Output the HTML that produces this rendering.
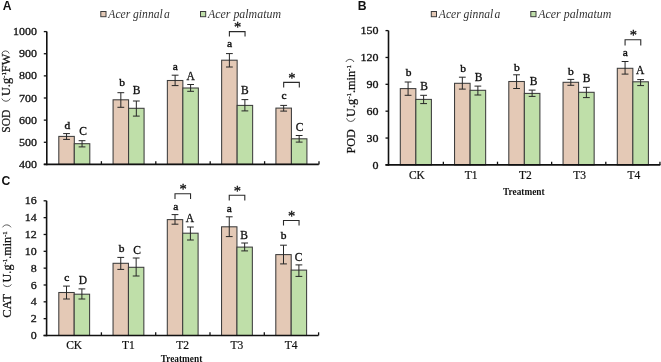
<!DOCTYPE html>
<html><head><meta charset="utf-8"><style>
html,body{margin:0;padding:0;background:#fff;}
body{width:661px;height:362px;overflow:hidden;}
svg{display:block;will-change:transform;}
</style></head><body>
<svg width="661" height="362" viewBox="0 0 661 362" style="font-family:'Liberation Serif',serif">
<rect width="661" height="362" fill="#fff"/>
<rect x="58.80" y="136.40" width="15.50" height="28.00" fill="#E4C9B6" stroke="#3c3c3c" stroke-width="1.05"/>
<rect x="74.30" y="143.70" width="15.50" height="20.70" fill="#BFDFA9" stroke="#3c3c3c" stroke-width="1.05"/>
<line x1="66.55" y1="133.60" x2="66.55" y2="139.40" stroke="#262626" stroke-width="1.0"/>
<line x1="63.15" y1="133.60" x2="69.95" y2="133.60" stroke="#262626" stroke-width="1.0"/>
<line x1="63.15" y1="139.40" x2="69.95" y2="139.40" stroke="#262626" stroke-width="1.0"/>
<text x="67.40" y="128.60" font-family="'Liberation Serif', serif" font-size="11.4" font-weight="normal" font-style="normal" text-anchor="middle" fill="#111" stroke="#111" stroke-width="0.42">d</text>
<line x1="82.05" y1="140.70" x2="82.05" y2="146.90" stroke="#262626" stroke-width="1.0"/>
<line x1="78.65" y1="140.70" x2="85.45" y2="140.70" stroke="#262626" stroke-width="1.0"/>
<line x1="78.65" y1="146.90" x2="85.45" y2="146.90" stroke="#262626" stroke-width="1.0"/>
<text x="83.20" y="134.50" font-family="'Liberation Serif', serif" font-size="11.5" font-weight="normal" font-style="normal" text-anchor="middle" fill="#111" stroke="#111" stroke-width="0.3">C</text>
<rect x="113.08" y="99.80" width="15.50" height="64.60" fill="#E4C9B6" stroke="#3c3c3c" stroke-width="1.05"/>
<rect x="128.58" y="108.30" width="15.50" height="56.10" fill="#BFDFA9" stroke="#3c3c3c" stroke-width="1.05"/>
<line x1="120.83" y1="92.70" x2="120.83" y2="107.30" stroke="#262626" stroke-width="1.0"/>
<line x1="117.43" y1="92.70" x2="124.23" y2="92.70" stroke="#262626" stroke-width="1.0"/>
<line x1="117.43" y1="107.30" x2="124.23" y2="107.30" stroke="#262626" stroke-width="1.0"/>
<text x="122.00" y="85.70" font-family="'Liberation Serif', serif" font-size="11.4" font-weight="normal" font-style="normal" text-anchor="middle" fill="#111" stroke="#111" stroke-width="0.42">b</text>
<line x1="136.33" y1="101.00" x2="136.33" y2="116.10" stroke="#262626" stroke-width="1.0"/>
<line x1="132.93" y1="101.00" x2="139.73" y2="101.00" stroke="#262626" stroke-width="1.0"/>
<line x1="132.93" y1="116.10" x2="139.73" y2="116.10" stroke="#262626" stroke-width="1.0"/>
<text x="136.50" y="94.10" font-family="'Liberation Serif', serif" font-size="11.5" font-weight="normal" font-style="normal" text-anchor="middle" fill="#111" stroke="#111" stroke-width="0.3">B</text>
<rect x="167.36" y="80.50" width="15.50" height="83.90" fill="#E4C9B6" stroke="#3c3c3c" stroke-width="1.05"/>
<rect x="182.86" y="88.00" width="15.50" height="76.40" fill="#BFDFA9" stroke="#3c3c3c" stroke-width="1.05"/>
<line x1="175.11" y1="75.20" x2="175.11" y2="85.60" stroke="#262626" stroke-width="1.0"/>
<line x1="171.71" y1="75.20" x2="178.51" y2="75.20" stroke="#262626" stroke-width="1.0"/>
<line x1="171.71" y1="85.60" x2="178.51" y2="85.60" stroke="#262626" stroke-width="1.0"/>
<text x="175.40" y="69.90" font-family="'Liberation Serif', serif" font-size="11.4" font-weight="normal" font-style="normal" text-anchor="middle" fill="#111" stroke="#111" stroke-width="0.42">a</text>
<line x1="190.61" y1="84.50" x2="190.61" y2="91.30" stroke="#262626" stroke-width="1.0"/>
<line x1="187.21" y1="84.50" x2="194.01" y2="84.50" stroke="#262626" stroke-width="1.0"/>
<line x1="187.21" y1="91.30" x2="194.01" y2="91.30" stroke="#262626" stroke-width="1.0"/>
<text x="190.70" y="79.50" font-family="'Liberation Serif', serif" font-size="11.5" font-weight="normal" font-style="normal" text-anchor="middle" fill="#111" stroke="#111" stroke-width="0.3">A</text>
<rect x="221.64" y="60.20" width="15.50" height="104.20" fill="#E4C9B6" stroke="#3c3c3c" stroke-width="1.05"/>
<rect x="237.14" y="105.40" width="15.50" height="59.00" fill="#BFDFA9" stroke="#3c3c3c" stroke-width="1.05"/>
<line x1="229.39" y1="53.60" x2="229.39" y2="67.00" stroke="#262626" stroke-width="1.0"/>
<line x1="225.99" y1="53.60" x2="232.79" y2="53.60" stroke="#262626" stroke-width="1.0"/>
<line x1="225.99" y1="67.00" x2="232.79" y2="67.00" stroke="#262626" stroke-width="1.0"/>
<text x="229.60" y="47.40" font-family="'Liberation Serif', serif" font-size="11.4" font-weight="normal" font-style="normal" text-anchor="middle" fill="#111" stroke="#111" stroke-width="0.42">a</text>
<line x1="244.89" y1="99.60" x2="244.89" y2="110.90" stroke="#262626" stroke-width="1.0"/>
<line x1="241.49" y1="99.60" x2="248.29" y2="99.60" stroke="#262626" stroke-width="1.0"/>
<line x1="241.49" y1="110.90" x2="248.29" y2="110.90" stroke="#262626" stroke-width="1.0"/>
<text x="244.80" y="93.60" font-family="'Liberation Serif', serif" font-size="11.5" font-weight="normal" font-style="normal" text-anchor="middle" fill="#111" stroke="#111" stroke-width="0.3">B</text>
<path d="M229.39,36.40 V31.60 H245.04 V36.40" fill="none" stroke="#2a2a2a" stroke-width="1.1"/>
<text x="237.61" y="31.90" font-family="'Liberation Serif', serif" font-size="14.5" font-weight="normal" font-style="normal" text-anchor="middle" fill="#111" stroke="#111" stroke-width="0.3">*</text>
<rect x="275.92" y="108.10" width="15.50" height="56.30" fill="#E4C9B6" stroke="#3c3c3c" stroke-width="1.05"/>
<rect x="291.42" y="138.80" width="15.50" height="25.60" fill="#BFDFA9" stroke="#3c3c3c" stroke-width="1.05"/>
<line x1="283.67" y1="105.40" x2="283.67" y2="111.10" stroke="#262626" stroke-width="1.0"/>
<line x1="280.27" y1="105.40" x2="287.07" y2="105.40" stroke="#262626" stroke-width="1.0"/>
<line x1="280.27" y1="111.10" x2="287.07" y2="111.10" stroke="#262626" stroke-width="1.0"/>
<text x="284.10" y="99.40" font-family="'Liberation Serif', serif" font-size="11.4" font-weight="normal" font-style="normal" text-anchor="middle" fill="#111" stroke="#111" stroke-width="0.42">c</text>
<line x1="299.17" y1="135.50" x2="299.17" y2="142.10" stroke="#262626" stroke-width="1.0"/>
<line x1="295.77" y1="135.50" x2="302.57" y2="135.50" stroke="#262626" stroke-width="1.0"/>
<line x1="295.77" y1="142.10" x2="302.57" y2="142.10" stroke="#262626" stroke-width="1.0"/>
<text x="299.70" y="131.10" font-family="'Liberation Serif', serif" font-size="11.5" font-weight="normal" font-style="normal" text-anchor="middle" fill="#111" stroke="#111" stroke-width="0.3">C</text>
<path d="M283.67,87.40 V82.40 H299.32 V87.40" fill="none" stroke="#2a2a2a" stroke-width="1.1"/>
<text x="291.89" y="82.70" font-family="'Liberation Serif', serif" font-size="14.5" font-weight="normal" font-style="normal" text-anchor="middle" fill="#111" stroke="#111" stroke-width="0.3">*</text>
<line x1="46.80" y1="31.60" x2="46.80" y2="165.15" stroke="#111" stroke-width="1.6"/>
<line x1="43.80" y1="164.40" x2="318.80" y2="164.40" stroke="#111" stroke-width="1.6"/>
<line x1="101.40" y1="161.20" x2="101.40" y2="164.40" stroke="#111" stroke-width="1.3"/>
<line x1="155.80" y1="161.20" x2="155.80" y2="164.40" stroke="#111" stroke-width="1.3"/>
<line x1="210.20" y1="161.20" x2="210.20" y2="164.40" stroke="#111" stroke-width="1.3"/>
<line x1="264.60" y1="161.20" x2="264.60" y2="164.40" stroke="#111" stroke-width="1.3"/>
<line x1="319.00" y1="161.20" x2="319.00" y2="164.40" stroke="#111" stroke-width="1.3"/>
<line x1="43.80" y1="31.60" x2="46.80" y2="31.60" stroke="#111" stroke-width="1.3"/>
<text x="37.00" y="35.20" font-family="'Liberation Serif', serif" font-size="11.2" font-weight="normal" font-style="normal" text-anchor="end" fill="#111" textLength="24.0" lengthAdjust="spacingAndGlyphs" stroke="#111" stroke-width="0.3">1000</text>
<line x1="43.80" y1="53.73" x2="46.80" y2="53.73" stroke="#111" stroke-width="1.3"/>
<text x="37.00" y="57.33" font-family="'Liberation Serif', serif" font-size="11.2" font-weight="normal" font-style="normal" text-anchor="end" fill="#111" textLength="18.0" lengthAdjust="spacingAndGlyphs" stroke="#111" stroke-width="0.3">900</text>
<line x1="43.80" y1="75.87" x2="46.80" y2="75.87" stroke="#111" stroke-width="1.3"/>
<text x="37.00" y="79.47" font-family="'Liberation Serif', serif" font-size="11.2" font-weight="normal" font-style="normal" text-anchor="end" fill="#111" textLength="18.0" lengthAdjust="spacingAndGlyphs" stroke="#111" stroke-width="0.3">800</text>
<line x1="43.80" y1="98.00" x2="46.80" y2="98.00" stroke="#111" stroke-width="1.3"/>
<text x="37.00" y="101.60" font-family="'Liberation Serif', serif" font-size="11.2" font-weight="normal" font-style="normal" text-anchor="end" fill="#111" textLength="18.0" lengthAdjust="spacingAndGlyphs" stroke="#111" stroke-width="0.3">700</text>
<line x1="43.80" y1="120.13" x2="46.80" y2="120.13" stroke="#111" stroke-width="1.3"/>
<text x="37.00" y="123.73" font-family="'Liberation Serif', serif" font-size="11.2" font-weight="normal" font-style="normal" text-anchor="end" fill="#111" textLength="18.0" lengthAdjust="spacingAndGlyphs" stroke="#111" stroke-width="0.3">600</text>
<line x1="43.80" y1="142.27" x2="46.80" y2="142.27" stroke="#111" stroke-width="1.3"/>
<text x="37.00" y="145.87" font-family="'Liberation Serif', serif" font-size="11.2" font-weight="normal" font-style="normal" text-anchor="end" fill="#111" textLength="18.0" lengthAdjust="spacingAndGlyphs" stroke="#111" stroke-width="0.3">500</text>
<line x1="43.80" y1="164.40" x2="46.80" y2="164.40" stroke="#111" stroke-width="1.3"/>
<text x="37.00" y="168.00" font-family="'Liberation Serif', serif" font-size="11.2" font-weight="normal" font-style="normal" text-anchor="end" fill="#111" textLength="18.0" lengthAdjust="spacingAndGlyphs" stroke="#111" stroke-width="0.3">400</text>
<text transform="translate(9.8,132.7) rotate(-90)" font-family="'Liberation Serif', serif" font-size="12.3" fill="#111" stroke="#111" stroke-width="0.25" textLength="22.9" lengthAdjust="spacingAndGlyphs">SOD</text>
<text transform="translate(9.5,96.0) rotate(-90)" font-family="'Liberation Serif', serif" font-size="12" fill="#111" stroke="#111" stroke-width="0.25" textLength="42.3" lengthAdjust="spacingAndGlyphs">U.g<tspan dy="-3.8" font-size="6.8">-1</tspan><tspan dy="3.8">FW</tspan></text>
<path d="M1.8,98.6 A4.62,4.62 0 0 0 10.2,98.6" fill="none" stroke="#444" stroke-width="0.9"/>
<path d="M1.8,53.5 A3.93,3.93 0 0 1 9.2,53.5" fill="none" stroke="#444" stroke-width="0.9"/>
<rect x="400.30" y="88.60" width="15.55" height="76.30" fill="#E4C9B6" stroke="#3c3c3c" stroke-width="1.05"/>
<rect x="415.85" y="99.40" width="15.55" height="65.50" fill="#BFDFA9" stroke="#3c3c3c" stroke-width="1.05"/>
<line x1="408.08" y1="82.00" x2="408.08" y2="95.30" stroke="#262626" stroke-width="1.0"/>
<line x1="404.68" y1="82.00" x2="411.48" y2="82.00" stroke="#262626" stroke-width="1.0"/>
<line x1="404.68" y1="95.30" x2="411.48" y2="95.30" stroke="#262626" stroke-width="1.0"/>
<text x="408.60" y="76.10" font-family="'Liberation Serif', serif" font-size="11.4" font-weight="normal" font-style="normal" text-anchor="middle" fill="#111" stroke="#111" stroke-width="0.42">b</text>
<line x1="423.62" y1="95.30" x2="423.62" y2="103.60" stroke="#262626" stroke-width="1.0"/>
<line x1="420.23" y1="95.30" x2="427.02" y2="95.30" stroke="#262626" stroke-width="1.0"/>
<line x1="420.23" y1="103.60" x2="427.02" y2="103.60" stroke="#262626" stroke-width="1.0"/>
<text x="424.00" y="90.10" font-family="'Liberation Serif', serif" font-size="11.5" font-weight="normal" font-style="normal" text-anchor="middle" fill="#111" stroke="#111" stroke-width="0.3">B</text>
<rect x="454.55" y="83.30" width="15.55" height="81.60" fill="#E4C9B6" stroke="#3c3c3c" stroke-width="1.05"/>
<rect x="470.10" y="90.30" width="15.55" height="74.60" fill="#BFDFA9" stroke="#3c3c3c" stroke-width="1.05"/>
<line x1="462.33" y1="77.20" x2="462.33" y2="89.10" stroke="#262626" stroke-width="1.0"/>
<line x1="458.93" y1="77.20" x2="465.73" y2="77.20" stroke="#262626" stroke-width="1.0"/>
<line x1="458.93" y1="89.10" x2="465.73" y2="89.10" stroke="#262626" stroke-width="1.0"/>
<text x="463.20" y="72.00" font-family="'Liberation Serif', serif" font-size="11.4" font-weight="normal" font-style="normal" text-anchor="middle" fill="#111" stroke="#111" stroke-width="0.42">b</text>
<line x1="477.88" y1="86.10" x2="477.88" y2="95.00" stroke="#262626" stroke-width="1.0"/>
<line x1="474.48" y1="86.10" x2="481.27" y2="86.10" stroke="#262626" stroke-width="1.0"/>
<line x1="474.48" y1="95.00" x2="481.27" y2="95.00" stroke="#262626" stroke-width="1.0"/>
<text x="478.70" y="80.70" font-family="'Liberation Serif', serif" font-size="11.5" font-weight="normal" font-style="normal" text-anchor="middle" fill="#111" stroke="#111" stroke-width="0.3">B</text>
<rect x="508.80" y="81.50" width="15.55" height="83.40" fill="#E4C9B6" stroke="#3c3c3c" stroke-width="1.05"/>
<rect x="524.35" y="93.40" width="15.55" height="71.50" fill="#BFDFA9" stroke="#3c3c3c" stroke-width="1.05"/>
<line x1="516.58" y1="74.80" x2="516.58" y2="88.50" stroke="#262626" stroke-width="1.0"/>
<line x1="513.18" y1="74.80" x2="519.98" y2="74.80" stroke="#262626" stroke-width="1.0"/>
<line x1="513.18" y1="88.50" x2="519.98" y2="88.50" stroke="#262626" stroke-width="1.0"/>
<text x="516.80" y="70.70" font-family="'Liberation Serif', serif" font-size="11.4" font-weight="normal" font-style="normal" text-anchor="middle" fill="#111" stroke="#111" stroke-width="0.42">b</text>
<line x1="532.12" y1="90.10" x2="532.12" y2="96.40" stroke="#262626" stroke-width="1.0"/>
<line x1="528.73" y1="90.10" x2="535.52" y2="90.10" stroke="#262626" stroke-width="1.0"/>
<line x1="528.73" y1="96.40" x2="535.52" y2="96.40" stroke="#262626" stroke-width="1.0"/>
<text x="533.70" y="85.10" font-family="'Liberation Serif', serif" font-size="11.5" font-weight="normal" font-style="normal" text-anchor="middle" fill="#111" stroke="#111" stroke-width="0.3">B</text>
<rect x="563.05" y="82.30" width="15.55" height="82.60" fill="#E4C9B6" stroke="#3c3c3c" stroke-width="1.05"/>
<rect x="578.60" y="92.30" width="15.55" height="72.60" fill="#BFDFA9" stroke="#3c3c3c" stroke-width="1.05"/>
<line x1="570.82" y1="79.40" x2="570.82" y2="85.30" stroke="#262626" stroke-width="1.0"/>
<line x1="567.42" y1="79.40" x2="574.22" y2="79.40" stroke="#262626" stroke-width="1.0"/>
<line x1="567.42" y1="85.30" x2="574.22" y2="85.30" stroke="#262626" stroke-width="1.0"/>
<text x="570.90" y="74.90" font-family="'Liberation Serif', serif" font-size="11.4" font-weight="normal" font-style="normal" text-anchor="middle" fill="#111" stroke="#111" stroke-width="0.42">b</text>
<line x1="586.38" y1="87.30" x2="586.38" y2="97.60" stroke="#262626" stroke-width="1.0"/>
<line x1="582.98" y1="87.30" x2="589.77" y2="87.30" stroke="#262626" stroke-width="1.0"/>
<line x1="582.98" y1="97.60" x2="589.77" y2="97.60" stroke="#262626" stroke-width="1.0"/>
<text x="586.50" y="82.00" font-family="'Liberation Serif', serif" font-size="11.5" font-weight="normal" font-style="normal" text-anchor="middle" fill="#111" stroke="#111" stroke-width="0.3">B</text>
<rect x="617.30" y="68.30" width="15.55" height="96.60" fill="#E4C9B6" stroke="#3c3c3c" stroke-width="1.05"/>
<rect x="632.85" y="81.80" width="15.55" height="83.10" fill="#BFDFA9" stroke="#3c3c3c" stroke-width="1.05"/>
<line x1="625.07" y1="61.50" x2="625.07" y2="74.10" stroke="#262626" stroke-width="1.0"/>
<line x1="621.67" y1="61.50" x2="628.47" y2="61.50" stroke="#262626" stroke-width="1.0"/>
<line x1="621.67" y1="74.10" x2="628.47" y2="74.10" stroke="#262626" stroke-width="1.0"/>
<text x="625.20" y="56.40" font-family="'Liberation Serif', serif" font-size="11.4" font-weight="normal" font-style="normal" text-anchor="middle" fill="#111" stroke="#111" stroke-width="0.42">a</text>
<line x1="640.62" y1="79.60" x2="640.62" y2="85.60" stroke="#262626" stroke-width="1.0"/>
<line x1="637.23" y1="79.60" x2="644.02" y2="79.60" stroke="#262626" stroke-width="1.0"/>
<line x1="637.23" y1="85.60" x2="644.02" y2="85.60" stroke="#262626" stroke-width="1.0"/>
<text x="640.10" y="74.00" font-family="'Liberation Serif', serif" font-size="11.5" font-weight="normal" font-style="normal" text-anchor="middle" fill="#111" stroke="#111" stroke-width="0.3">A</text>
<path d="M625.07,45.60 V39.80 H640.77 V45.60" fill="none" stroke="#2a2a2a" stroke-width="1.1"/>
<text x="633.32" y="40.10" font-family="'Liberation Serif', serif" font-size="14.5" font-weight="normal" font-style="normal" text-anchor="middle" fill="#111" stroke="#111" stroke-width="0.3">*</text>
<line x1="388.50" y1="30.60" x2="388.50" y2="165.65" stroke="#111" stroke-width="1.6"/>
<line x1="385.50" y1="164.90" x2="660.35" y2="164.90" stroke="#111" stroke-width="1.6"/>
<line x1="443.35" y1="161.70" x2="443.35" y2="164.90" stroke="#111" stroke-width="1.3"/>
<line x1="497.50" y1="161.70" x2="497.50" y2="164.90" stroke="#111" stroke-width="1.3"/>
<line x1="551.65" y1="161.70" x2="551.65" y2="164.90" stroke="#111" stroke-width="1.3"/>
<line x1="605.80" y1="161.70" x2="605.80" y2="164.90" stroke="#111" stroke-width="1.3"/>
<line x1="659.95" y1="161.70" x2="659.95" y2="164.90" stroke="#111" stroke-width="1.3"/>
<line x1="385.50" y1="30.60" x2="388.50" y2="30.60" stroke="#111" stroke-width="1.3"/>
<text x="378.60" y="34.20" font-family="'Liberation Serif', serif" font-size="11.2" font-weight="normal" font-style="normal" text-anchor="end" fill="#111" textLength="18.0" lengthAdjust="spacingAndGlyphs" stroke="#111" stroke-width="0.3">150</text>
<line x1="385.50" y1="57.46" x2="388.50" y2="57.46" stroke="#111" stroke-width="1.3"/>
<text x="378.60" y="61.06" font-family="'Liberation Serif', serif" font-size="11.2" font-weight="normal" font-style="normal" text-anchor="end" fill="#111" textLength="18.0" lengthAdjust="spacingAndGlyphs" stroke="#111" stroke-width="0.3">120</text>
<line x1="385.50" y1="84.32" x2="388.50" y2="84.32" stroke="#111" stroke-width="1.3"/>
<text x="378.60" y="87.92" font-family="'Liberation Serif', serif" font-size="11.2" font-weight="normal" font-style="normal" text-anchor="end" fill="#111" textLength="12.0" lengthAdjust="spacingAndGlyphs" stroke="#111" stroke-width="0.3">90</text>
<line x1="385.50" y1="111.18" x2="388.50" y2="111.18" stroke="#111" stroke-width="1.3"/>
<text x="378.60" y="114.78" font-family="'Liberation Serif', serif" font-size="11.2" font-weight="normal" font-style="normal" text-anchor="end" fill="#111" textLength="12.0" lengthAdjust="spacingAndGlyphs" stroke="#111" stroke-width="0.3">60</text>
<line x1="385.50" y1="138.04" x2="388.50" y2="138.04" stroke="#111" stroke-width="1.3"/>
<text x="378.60" y="141.64" font-family="'Liberation Serif', serif" font-size="11.2" font-weight="normal" font-style="normal" text-anchor="end" fill="#111" textLength="12.0" lengthAdjust="spacingAndGlyphs" stroke="#111" stroke-width="0.3">30</text>
<line x1="385.50" y1="164.90" x2="388.50" y2="164.90" stroke="#111" stroke-width="1.3"/>
<text x="378.60" y="168.50" font-family="'Liberation Serif', serif" font-size="11.2" font-weight="normal" font-style="normal" text-anchor="end" fill="#111" textLength="6.0" lengthAdjust="spacingAndGlyphs" stroke="#111" stroke-width="0.3">0</text>
<text x="416.92" y="179.30" font-family="'Liberation Serif', serif" font-size="11.5" font-weight="normal" font-style="normal" text-anchor="middle" fill="#111" stroke="#111" stroke-width="0.2">CK</text>
<text x="471.17" y="179.30" font-family="'Liberation Serif', serif" font-size="11.5" font-weight="normal" font-style="normal" text-anchor="middle" fill="#111" stroke="#111" stroke-width="0.2">T1</text>
<text x="525.42" y="179.30" font-family="'Liberation Serif', serif" font-size="11.5" font-weight="normal" font-style="normal" text-anchor="middle" fill="#111" stroke="#111" stroke-width="0.2">T2</text>
<text x="579.67" y="179.30" font-family="'Liberation Serif', serif" font-size="11.5" font-weight="normal" font-style="normal" text-anchor="middle" fill="#111" stroke="#111" stroke-width="0.2">T3</text>
<text x="633.92" y="179.30" font-family="'Liberation Serif', serif" font-size="11.5" font-weight="normal" font-style="normal" text-anchor="middle" fill="#111" stroke="#111" stroke-width="0.2">T4</text>
<text x="523.80" y="194.90" font-family="'Liberation Serif', serif" font-size="9.3" font-weight="bold" font-style="normal" text-anchor="middle" fill="#111" >Treatment</text>
<text transform="translate(354.8,153.5) rotate(-90)" font-family="'Liberation Serif', serif" font-size="12" fill="#111" stroke="#111" stroke-width="0.25" textLength="24.3" lengthAdjust="spacingAndGlyphs">POD</text>
<text transform="translate(354.8,116.9) rotate(-90)" font-family="'Liberation Serif', serif" font-size="12" fill="#111" stroke="#111" stroke-width="0.25" textLength="51.8" lengthAdjust="spacingAndGlyphs">U.g<tspan dy="-3.8" font-size="6.8">-1</tspan><tspan dy="3.8">.min</tspan><tspan dy="-3.8" font-size="6.8">-1</tspan></text>
<path d="M346.5,118.3 A4.42,4.42 0 0 0 355.0,118.3" fill="none" stroke="#444" stroke-width="0.9"/>
<path d="M345.8,62.0 A4.46,4.46 0 0 1 354.0,62.0" fill="none" stroke="#444" stroke-width="0.9"/>
<rect x="58.80" y="292.50" width="15.40" height="43.00" fill="#E4C9B6" stroke="#3c3c3c" stroke-width="1.05"/>
<rect x="74.20" y="294.20" width="15.40" height="41.30" fill="#BFDFA9" stroke="#3c3c3c" stroke-width="1.05"/>
<line x1="66.50" y1="286.10" x2="66.50" y2="299.00" stroke="#262626" stroke-width="1.0"/>
<line x1="63.10" y1="286.10" x2="69.90" y2="286.10" stroke="#262626" stroke-width="1.0"/>
<line x1="63.10" y1="299.00" x2="69.90" y2="299.00" stroke="#262626" stroke-width="1.0"/>
<text x="66.90" y="281.10" font-family="'Liberation Serif', serif" font-size="11.4" font-weight="normal" font-style="normal" text-anchor="middle" fill="#111" stroke="#111" stroke-width="0.42">c</text>
<line x1="81.90" y1="288.90" x2="81.90" y2="299.00" stroke="#262626" stroke-width="1.0"/>
<line x1="78.50" y1="288.90" x2="85.30" y2="288.90" stroke="#262626" stroke-width="1.0"/>
<line x1="78.50" y1="299.00" x2="85.30" y2="299.00" stroke="#262626" stroke-width="1.0"/>
<text x="83.00" y="283.60" font-family="'Liberation Serif', serif" font-size="11.5" font-weight="normal" font-style="normal" text-anchor="middle" fill="#111" stroke="#111" stroke-width="0.3">D</text>
<rect x="113.05" y="263.30" width="15.40" height="72.20" fill="#E4C9B6" stroke="#3c3c3c" stroke-width="1.05"/>
<rect x="128.45" y="267.30" width="15.40" height="68.20" fill="#BFDFA9" stroke="#3c3c3c" stroke-width="1.05"/>
<line x1="120.75" y1="257.40" x2="120.75" y2="269.40" stroke="#262626" stroke-width="1.0"/>
<line x1="117.35" y1="257.40" x2="124.15" y2="257.40" stroke="#262626" stroke-width="1.0"/>
<line x1="117.35" y1="269.40" x2="124.15" y2="269.40" stroke="#262626" stroke-width="1.0"/>
<text x="121.50" y="251.60" font-family="'Liberation Serif', serif" font-size="11.4" font-weight="normal" font-style="normal" text-anchor="middle" fill="#111" stroke="#111" stroke-width="0.42">b</text>
<line x1="136.15" y1="258.00" x2="136.15" y2="276.00" stroke="#262626" stroke-width="1.0"/>
<line x1="132.75" y1="258.00" x2="139.55" y2="258.00" stroke="#262626" stroke-width="1.0"/>
<line x1="132.75" y1="276.00" x2="139.55" y2="276.00" stroke="#262626" stroke-width="1.0"/>
<text x="137.20" y="253.90" font-family="'Liberation Serif', serif" font-size="11.5" font-weight="normal" font-style="normal" text-anchor="middle" fill="#111" stroke="#111" stroke-width="0.3">C</text>
<rect x="167.30" y="219.60" width="15.40" height="115.90" fill="#E4C9B6" stroke="#3c3c3c" stroke-width="1.05"/>
<rect x="182.70" y="233.20" width="15.40" height="102.30" fill="#BFDFA9" stroke="#3c3c3c" stroke-width="1.05"/>
<line x1="175.00" y1="214.60" x2="175.00" y2="224.20" stroke="#262626" stroke-width="1.0"/>
<line x1="171.60" y1="214.60" x2="178.40" y2="214.60" stroke="#262626" stroke-width="1.0"/>
<line x1="171.60" y1="224.20" x2="178.40" y2="224.20" stroke="#262626" stroke-width="1.0"/>
<text x="175.70" y="210.10" font-family="'Liberation Serif', serif" font-size="11.4" font-weight="normal" font-style="normal" text-anchor="middle" fill="#111" stroke="#111" stroke-width="0.42">a</text>
<line x1="190.40" y1="227.00" x2="190.40" y2="240.00" stroke="#262626" stroke-width="1.0"/>
<line x1="187.00" y1="227.00" x2="193.80" y2="227.00" stroke="#262626" stroke-width="1.0"/>
<line x1="187.00" y1="240.00" x2="193.80" y2="240.00" stroke="#262626" stroke-width="1.0"/>
<text x="190.00" y="221.90" font-family="'Liberation Serif', serif" font-size="11.5" font-weight="normal" font-style="normal" text-anchor="middle" fill="#111" stroke="#111" stroke-width="0.3">A</text>
<path d="M175.00,198.90 V193.70 H190.55 V198.90" fill="none" stroke="#2a2a2a" stroke-width="1.1"/>
<text x="183.17" y="194.00" font-family="'Liberation Serif', serif" font-size="14.5" font-weight="normal" font-style="normal" text-anchor="middle" fill="#111" stroke="#111" stroke-width="0.3">*</text>
<rect x="221.55" y="226.80" width="15.40" height="108.70" fill="#E4C9B6" stroke="#3c3c3c" stroke-width="1.05"/>
<rect x="236.95" y="247.10" width="15.40" height="88.40" fill="#BFDFA9" stroke="#3c3c3c" stroke-width="1.05"/>
<line x1="229.25" y1="216.80" x2="229.25" y2="236.60" stroke="#262626" stroke-width="1.0"/>
<line x1="225.85" y1="216.80" x2="232.65" y2="216.80" stroke="#262626" stroke-width="1.0"/>
<line x1="225.85" y1="236.60" x2="232.65" y2="236.60" stroke="#262626" stroke-width="1.0"/>
<text x="229.20" y="211.90" font-family="'Liberation Serif', serif" font-size="11.4" font-weight="normal" font-style="normal" text-anchor="middle" fill="#111" stroke="#111" stroke-width="0.42">a</text>
<line x1="244.65" y1="243.00" x2="244.65" y2="250.90" stroke="#262626" stroke-width="1.0"/>
<line x1="241.25" y1="243.00" x2="248.05" y2="243.00" stroke="#262626" stroke-width="1.0"/>
<line x1="241.25" y1="250.90" x2="248.05" y2="250.90" stroke="#262626" stroke-width="1.0"/>
<text x="244.20" y="238.90" font-family="'Liberation Serif', serif" font-size="11.5" font-weight="normal" font-style="normal" text-anchor="middle" fill="#111" stroke="#111" stroke-width="0.3">B</text>
<path d="M229.25,200.50 V195.30 H244.80 V200.50" fill="none" stroke="#2a2a2a" stroke-width="1.1"/>
<text x="237.42" y="195.60" font-family="'Liberation Serif', serif" font-size="14.5" font-weight="normal" font-style="normal" text-anchor="middle" fill="#111" stroke="#111" stroke-width="0.3">*</text>
<rect x="275.80" y="254.60" width="15.40" height="80.90" fill="#E4C9B6" stroke="#3c3c3c" stroke-width="1.05"/>
<rect x="291.20" y="270.10" width="15.40" height="65.40" fill="#BFDFA9" stroke="#3c3c3c" stroke-width="1.05"/>
<line x1="283.50" y1="245.20" x2="283.50" y2="263.90" stroke="#262626" stroke-width="1.0"/>
<line x1="280.10" y1="245.20" x2="286.90" y2="245.20" stroke="#262626" stroke-width="1.0"/>
<line x1="280.10" y1="263.90" x2="286.90" y2="263.90" stroke="#262626" stroke-width="1.0"/>
<text x="283.50" y="239.40" font-family="'Liberation Serif', serif" font-size="11.4" font-weight="normal" font-style="normal" text-anchor="middle" fill="#111" stroke="#111" stroke-width="0.42">b</text>
<line x1="298.90" y1="264.90" x2="298.90" y2="276.40" stroke="#262626" stroke-width="1.0"/>
<line x1="295.50" y1="264.90" x2="302.30" y2="264.90" stroke="#262626" stroke-width="1.0"/>
<line x1="295.50" y1="276.40" x2="302.30" y2="276.40" stroke="#262626" stroke-width="1.0"/>
<text x="298.60" y="260.70" font-family="'Liberation Serif', serif" font-size="11.5" font-weight="normal" font-style="normal" text-anchor="middle" fill="#111" stroke="#111" stroke-width="0.3">C</text>
<path d="M283.50,225.50 V220.50 H299.05 V225.50" fill="none" stroke="#2a2a2a" stroke-width="1.1"/>
<text x="291.67" y="220.80" font-family="'Liberation Serif', serif" font-size="14.5" font-weight="normal" font-style="normal" text-anchor="middle" fill="#111" stroke="#111" stroke-width="0.3">*</text>
<line x1="46.60" y1="200.80" x2="46.60" y2="336.25" stroke="#111" stroke-width="1.6"/>
<line x1="43.60" y1="335.50" x2="318.45" y2="335.50" stroke="#111" stroke-width="1.6"/>
<line x1="101.40" y1="332.30" x2="101.40" y2="335.50" stroke="#111" stroke-width="1.3"/>
<line x1="155.70" y1="332.30" x2="155.70" y2="335.50" stroke="#111" stroke-width="1.3"/>
<line x1="210.00" y1="332.30" x2="210.00" y2="335.50" stroke="#111" stroke-width="1.3"/>
<line x1="264.30" y1="332.30" x2="264.30" y2="335.50" stroke="#111" stroke-width="1.3"/>
<line x1="318.60" y1="332.30" x2="318.60" y2="335.50" stroke="#111" stroke-width="1.3"/>
<line x1="43.60" y1="200.80" x2="46.60" y2="200.80" stroke="#111" stroke-width="1.3"/>
<text x="36.70" y="204.40" font-family="'Liberation Serif', serif" font-size="11.2" font-weight="normal" font-style="normal" text-anchor="end" fill="#111" textLength="12.0" lengthAdjust="spacingAndGlyphs" stroke="#111" stroke-width="0.3">16</text>
<line x1="43.60" y1="217.64" x2="46.60" y2="217.64" stroke="#111" stroke-width="1.3"/>
<text x="36.70" y="221.24" font-family="'Liberation Serif', serif" font-size="11.2" font-weight="normal" font-style="normal" text-anchor="end" fill="#111" textLength="12.0" lengthAdjust="spacingAndGlyphs" stroke="#111" stroke-width="0.3">14</text>
<line x1="43.60" y1="234.48" x2="46.60" y2="234.48" stroke="#111" stroke-width="1.3"/>
<text x="36.70" y="238.08" font-family="'Liberation Serif', serif" font-size="11.2" font-weight="normal" font-style="normal" text-anchor="end" fill="#111" textLength="12.0" lengthAdjust="spacingAndGlyphs" stroke="#111" stroke-width="0.3">12</text>
<line x1="43.60" y1="251.31" x2="46.60" y2="251.31" stroke="#111" stroke-width="1.3"/>
<text x="36.70" y="254.91" font-family="'Liberation Serif', serif" font-size="11.2" font-weight="normal" font-style="normal" text-anchor="end" fill="#111" textLength="12.0" lengthAdjust="spacingAndGlyphs" stroke="#111" stroke-width="0.3">10</text>
<line x1="43.60" y1="268.15" x2="46.60" y2="268.15" stroke="#111" stroke-width="1.3"/>
<text x="36.70" y="271.75" font-family="'Liberation Serif', serif" font-size="11.2" font-weight="normal" font-style="normal" text-anchor="end" fill="#111" textLength="6.0" lengthAdjust="spacingAndGlyphs" stroke="#111" stroke-width="0.3">8</text>
<line x1="43.60" y1="284.99" x2="46.60" y2="284.99" stroke="#111" stroke-width="1.3"/>
<text x="36.70" y="288.59" font-family="'Liberation Serif', serif" font-size="11.2" font-weight="normal" font-style="normal" text-anchor="end" fill="#111" textLength="6.0" lengthAdjust="spacingAndGlyphs" stroke="#111" stroke-width="0.3">6</text>
<line x1="43.60" y1="301.82" x2="46.60" y2="301.82" stroke="#111" stroke-width="1.3"/>
<text x="36.70" y="305.43" font-family="'Liberation Serif', serif" font-size="11.2" font-weight="normal" font-style="normal" text-anchor="end" fill="#111" textLength="6.0" lengthAdjust="spacingAndGlyphs" stroke="#111" stroke-width="0.3">4</text>
<line x1="43.60" y1="318.66" x2="46.60" y2="318.66" stroke="#111" stroke-width="1.3"/>
<text x="36.70" y="322.26" font-family="'Liberation Serif', serif" font-size="11.2" font-weight="normal" font-style="normal" text-anchor="end" fill="#111" textLength="6.0" lengthAdjust="spacingAndGlyphs" stroke="#111" stroke-width="0.3">2</text>
<line x1="43.60" y1="335.50" x2="46.60" y2="335.50" stroke="#111" stroke-width="1.3"/>
<text x="36.70" y="339.10" font-family="'Liberation Serif', serif" font-size="11.2" font-weight="normal" font-style="normal" text-anchor="end" fill="#111" textLength="6.0" lengthAdjust="spacingAndGlyphs" stroke="#111" stroke-width="0.3">0</text>
<text x="74.12" y="349.20" font-family="'Liberation Serif', serif" font-size="11.5" font-weight="normal" font-style="normal" text-anchor="middle" fill="#111" stroke="#111" stroke-width="0.2">CK</text>
<text x="128.38" y="349.20" font-family="'Liberation Serif', serif" font-size="11.5" font-weight="normal" font-style="normal" text-anchor="middle" fill="#111" stroke="#111" stroke-width="0.2">T1</text>
<text x="182.62" y="349.20" font-family="'Liberation Serif', serif" font-size="11.5" font-weight="normal" font-style="normal" text-anchor="middle" fill="#111" stroke="#111" stroke-width="0.2">T2</text>
<text x="236.88" y="349.20" font-family="'Liberation Serif', serif" font-size="11.5" font-weight="normal" font-style="normal" text-anchor="middle" fill="#111" stroke="#111" stroke-width="0.2">T3</text>
<text x="291.12" y="349.20" font-family="'Liberation Serif', serif" font-size="11.5" font-weight="normal" font-style="normal" text-anchor="middle" fill="#111" stroke="#111" stroke-width="0.2">T4</text>
<text x="181.50" y="362.20" font-family="'Liberation Serif', serif" font-size="9.3" font-weight="bold" font-style="normal" text-anchor="middle" fill="#111" >Treatment</text>
<text transform="translate(11.0,317.8) rotate(-90)" font-family="'Liberation Serif', serif" font-size="12" fill="#111" stroke="#111" stroke-width="0.25" textLength="23.6" lengthAdjust="spacingAndGlyphs">CAT</text>
<text transform="translate(11.0,282.4) rotate(-90)" font-family="'Liberation Serif', serif" font-size="12" fill="#111" stroke="#111" stroke-width="0.25" textLength="51.2" lengthAdjust="spacingAndGlyphs">U.g<tspan dy="-3.8" font-size="6.8">-1</tspan><tspan dy="3.8">.min</tspan><tspan dy="-3.8" font-size="6.8">-1</tspan></text>
<path d="M3.1,284.5 A5.25,5.25 0 0 0 11.5,284.5" fill="none" stroke="#444" stroke-width="0.9"/>
<path d="M2.5,227.3 A4.96,4.96 0 0 1 11.0,227.3" fill="none" stroke="#444" stroke-width="0.9"/>
<text x="2.70" y="9.60" font-family="'Liberation Sans', sans-serif" font-size="12.2" font-weight="bold" font-style="normal" text-anchor="start" fill="#111" >A</text>
<text x="357.70" y="9.70" font-family="'Liberation Sans', sans-serif" font-size="12.2" font-weight="bold" font-style="normal" text-anchor="start" fill="#111" >B</text>
<text x="1.50" y="185.00" font-family="'Liberation Sans', sans-serif" font-size="12.2" font-weight="bold" font-style="normal" text-anchor="start" fill="#111" >C</text>
<rect x="100.80" y="11.50" width="5.2" height="5.2" fill="#E4C9B6" stroke="#3c3c3c" stroke-width="1"/>
<text x="108.30" y="17.90" font-family="'Liberation Serif', serif" font-size="11.6" font-style="italic" fill="#333" textLength="61.5" lengthAdjust="spacingAndGlyphs">Acer ginnal<tspan dx="1.3">a</tspan></text>
<rect x="200.50" y="11.50" width="5.2" height="5.2" fill="#BFDFA9" stroke="#3c3c3c" stroke-width="1"/>
<text x="208.00" y="17.90" font-family="'Liberation Serif', serif" font-size="11.6" font-style="italic" fill="#333" textLength="73" lengthAdjust="spacingAndGlyphs">Acer palmatum</text>
<rect x="431.30" y="11.50" width="5.2" height="5.2" fill="#E4C9B6" stroke="#3c3c3c" stroke-width="1"/>
<text x="438.80" y="17.90" font-family="'Liberation Serif', serif" font-size="11.6" font-style="italic" fill="#333" textLength="61.5" lengthAdjust="spacingAndGlyphs">Acer ginnal<tspan dx="1.3">a</tspan></text>
<rect x="530.80" y="11.50" width="5.2" height="5.2" fill="#BFDFA9" stroke="#3c3c3c" stroke-width="1"/>
<text x="538.30" y="17.90" font-family="'Liberation Serif', serif" font-size="11.6" font-style="italic" fill="#333" textLength="73" lengthAdjust="spacingAndGlyphs">Acer palmatum</text>
</svg>
</body></html>
